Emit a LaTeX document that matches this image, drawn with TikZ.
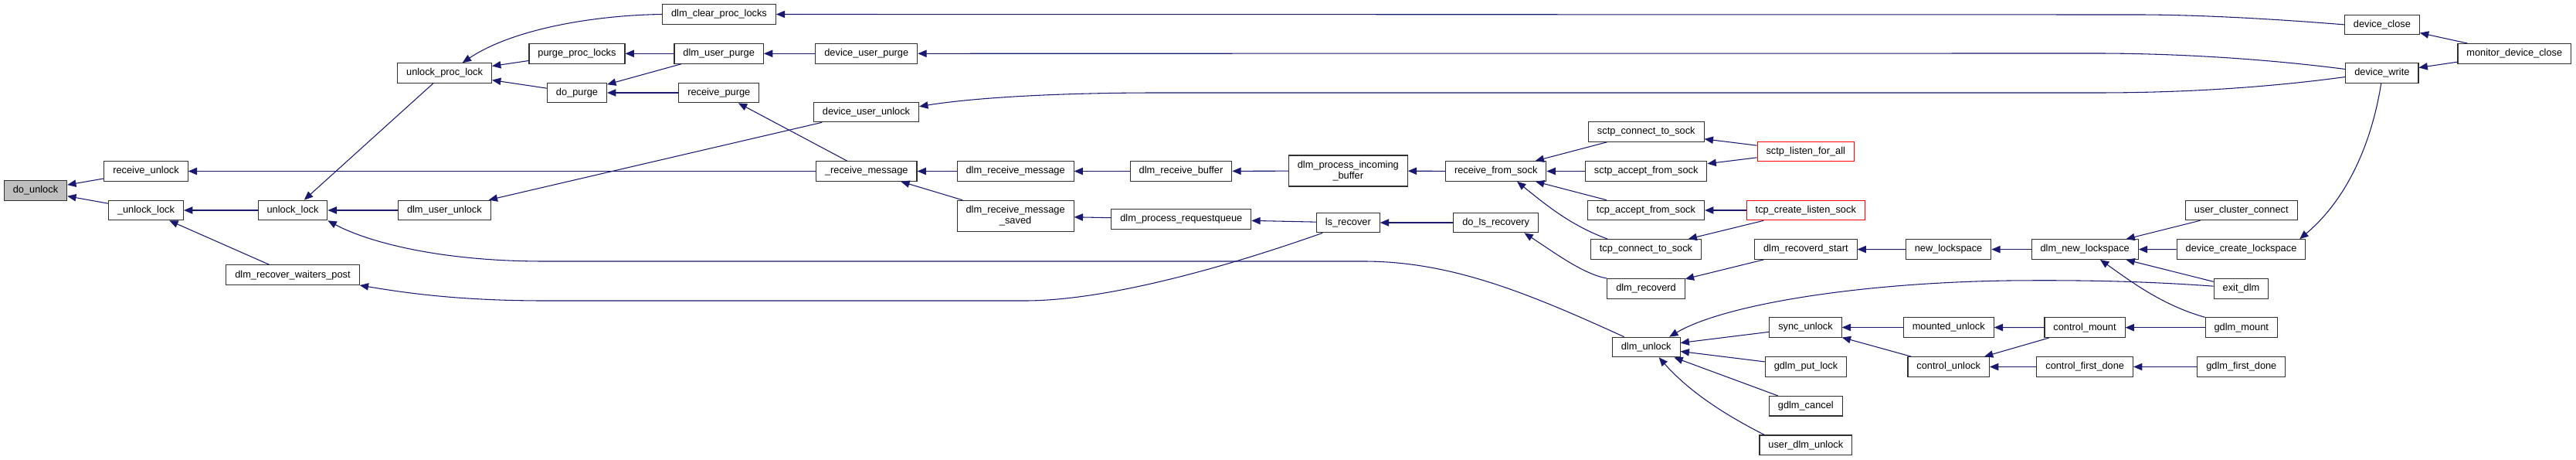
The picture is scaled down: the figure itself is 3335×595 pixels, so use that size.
\documentclass[tikz,border=0pt]{standalone}
\usepackage{fontspec}
\setmainfont{Liberation Sans}
\usepackage{tikz}
\usetikzlibrary{arrows.meta}
\usepackage{xcolor}
\definecolor{EdgeNavy}{HTML}{191970}
\definecolor{FocusGray}{HTML}{BFBFBF}
\definecolor{BoxLine}{HTML}{303030}
\definecolor{LinkRed}{HTML}{FF0000}
\tikzset{fn/.style={draw=BoxLine,fill=white,line width=0.8pt,inner xsep=8.6pt,inner ysep=2.5pt,minimum height=19.2pt,align=center,font=\fontsize{9.6}{10.8}\selectfont},
  call/.style={->,color=EdgeNavy,line width=0.8pt}}
\begin{document}
\begin{tikzpicture}[x=0.75pt,y=-0.75pt,>={Triangle[length=8.5pt,width=7pt]}]
\useasboundingbox (0,0) rectangle (3335,595);
\node[fn,fill=FocusGray] (du) at (46,246.3) {do\_unlock};
\node[fn] (ru) at (189,221.5) {receive\_unlock};
\node[fn] (ul) at (189,272) {\_unlock\_lock};
\node[fn] (unl) at (379,272) {unlock\_lock};
\node[fn] (rwp) at (379,355.7) {dlm\_recover\_waiters\_post};
\node[fn] (upl) at (575.6,94.5) {unlock\_proc\_lock};
\node[fn] (duu) at (575.4,272) {dlm\_user\_unlock};
\node[fn] (ppl) at (747,69.3) {purge\_proc\_locks};
\node[fn] (dp) at (747,120) {do\_purge};
\node[fn] (cpl) at (931,18.5) {dlm\_clear\_proc\_locks};
\node[fn] (dup) at (930.7,69.3) {dlm\_user\_purge};
\node[fn] (rp) at (930.8,120) {receive\_purge};
\node[fn] (dvp) at (1121.8,69.3) {device\_user\_purge};
\node[fn] (dvu) at (1121.5,145) {device\_user\_unlock};
\node[fn] (rm) at (1121.8,221.5) {\_receive\_message};
\node[fn] (drm) at (1314.6,221.5) {dlm\_receive\_message};
\node[fn,minimum height=30pt] (drs) at (1314.6,279.3) {dlm\_receive\_message\\\_saved};
\node[fn] (drb) at (1529,221.5) {dlm\_receive\_buffer};
\node[fn] (prq) at (1529.3,283.5) {dlm\_process\_requestqueue};
\node[fn,minimum height=30pt] (pib) at (1745.3,221) {dlm\_process\_incoming\\\_buffer};
\node[fn] (lsr) at (1745.3,288) {ls\_recover};
\node[fn] (rfs) at (1936.7,221.5) {receive\_from\_sock};
\node[fn] (dlr) at (1936.7,288) {do\_ls\_recovery};
\node[fn] (scs) at (2131.3,170.5) {sctp\_connect\_to\_sock};
\node[fn] (sas) at (2131.2,221.5) {sctp\_accept\_from\_sock};
\node[fn] (tas) at (2131,272) {tcp\_accept\_from\_sock};
\node[fn] (tcs) at (2131,322.5) {tcp\_connect\_to\_sock};
\node[fn] (rcd) at (2131,373.3) {dlm\_recoverd};
\node[fn] (dun) at (2131.2,449) {dlm\_unlock};
\node[fn,draw=LinkRed] (slf) at (2337.8,196) {sctp\_listen\_for\_all};
\node[fn,draw=LinkRed] (tcl) at (2337.8,272) {tcp\_create\_listen\_sock};
\node[fn] (rds) at (2337.8,322.5) {dlm\_recoverd\_start};
\node[fn] (syu) at (2337.5,423.5) {sync\_unlock};
\node[fn] (gpl) at (2338,474.5) {gdlm\_put\_lock};
\node[fn] (gca) at (2337.8,525.2) {gdlm\_cancel};
\node[fn] (udu) at (2337.8,575.8) {user\_dlm\_unlock};
\node[fn] (nls) at (2522.5,322.6) {new\_lockspace};
\node[fn] (mu) at (2522.7,423.5) {mounted\_unlock};
\node[fn] (cu) at (2522.7,474.5) {control\_unlock};
\node[fn] (dnl) at (2699.2,322.6) {dlm\_new\_lockspace};
\node[fn] (cm) at (2699,423.7) {control\_mount};
\node[fn] (cfd) at (2699.2,474.5) {control\_first\_done};
\node[fn] (ucc) at (2901.8,271.9) {user\_cluster\_connect};
\node[fn] (dcl) at (2901.5,322.5) {device\_create\_lockspace};
\node[fn] (ed) at (2901.5,373.3) {exit\_dlm};
\node[fn] (gm) at (2901.8,423.7) {gdlm\_mount};
\node[fn] (gfd) at (2901.8,474.5) {gdlm\_first\_done};
\node[fn] (dc) at (3083.9,31.9) {device\_close};
\node[fn] (dw) at (3083.9,94.5) {device\_write};
\node[fn] (mdc) at (3255.3,69.3) {monitor\_device\_close};
% callers on the right, arrow heads at the callee
\draw[call] (ru)--(du);\draw[call] (ul)--(du);\draw[call] (rm)--(ru);\draw[call] (unl)--(ul);\draw[call] (rwp)--(ul);
\draw[call] (upl)--(unl);\draw[call] (duu)--(unl);\draw[call] (ppl)--(upl);\draw[call] (dp)--(upl);\draw[call] (dup)--(ppl);\draw[call] (dup)--(dp);\draw[call] (rp)--(dp);
\draw[call] (dvp)--(dup);\draw[call] (rm)--(rp);\draw[call] (dvu)--(duu);\draw[call] (mdc)--(dc);\draw[call] (mdc)--(dw);
\draw[call] (drm)--(rm);\draw[call] (drs)--(rm);\draw[call] (drb)--(drm);\draw[call] (pib)--(drb);\draw[call] (rfs)--(pib);
\draw[call] (scs)--(rfs);\draw[call] (sas)--(rfs);\draw[call] (tas)--(rfs);\draw[call] (slf)--(scs);\draw[call] (slf)--(sas);\draw[call] (tcl)--(tas);\draw[call] (tcl)--(tcs);
\draw[call] (prq)--(drs);\draw[call] (lsr)--(prq);\draw[call] (dlr)--(lsr);\draw[call] (rds)--(rcd);\draw[call] (nls)--(rds);\draw[call] (dnl)--(nls);
\draw[call] (ucc)--(dnl);\draw[call] (dcl)--(dnl);\draw[call] (ed)--(dnl);
\draw[call] (syu)--(dun);\draw[call] (gpl)--(dun);\draw[call] (gca)--(dun);\draw[call] (mu)--(syu);\draw[call] (cu)--(syu);
\draw[call] (cm)--(mu);\draw[call] (gm)--(cm);\draw[call] (cm)--(cu);\draw[call] (cfd)--(cu);\draw[call] (gfd)--(cfd);
% long bent connectors
\draw[call] (cpl.west) .. controls (760,20) and (660,40) .. (upl.30);
\draw[call] (dc.west) .. controls (2950,25) and (2850,19) .. (2766,19) -- (cpl.east);
\draw[call] (dw.174) .. controls (2900,72) and (2780,69) .. (2713,69) -- (dvp.east);
\draw[call] (dw.186) .. controls (2900,118) and (2780,120) .. (2713,120) -- (1500,120) .. controls (1350,120) and (1250,128) .. (dvu.6);
\draw[call] (dun.155) .. controls (1980,380) and (1880,338) .. (1765,338) -- (705,338) .. controls (560,338) and (470,310) .. (unl.south east);
\draw[call] (lsr.-158) .. controls (1560,355) and (1420,389) .. (1327,389) -- (705,389) .. controls (590,389) and (520,378) .. (rwp.south east);
\draw[call] (tcs.165) .. controls (2035,292) and (2005,268) .. (rfs.-26);
\draw[call] (rcd.north west) .. controls (2050,355) and (2010,325) .. (dlr.-20);
\draw[call] (gm.north west) .. controls (2800,395) and (2760,365) .. (dnl.-34);
\draw[call] (dw.-95) .. controls (3068,200) and (3030,265) .. (dcl.10);
\draw[call] (ed.175) .. controls (2780,364) and (2700,362) .. (2600,363) .. controls (2400,366) and (2230,395) .. (dun.24);
\draw[call] (udu.166) .. controls (2240,540) and (2190,510) .. (dun.-39);
\end{tikzpicture}
\end{document}
